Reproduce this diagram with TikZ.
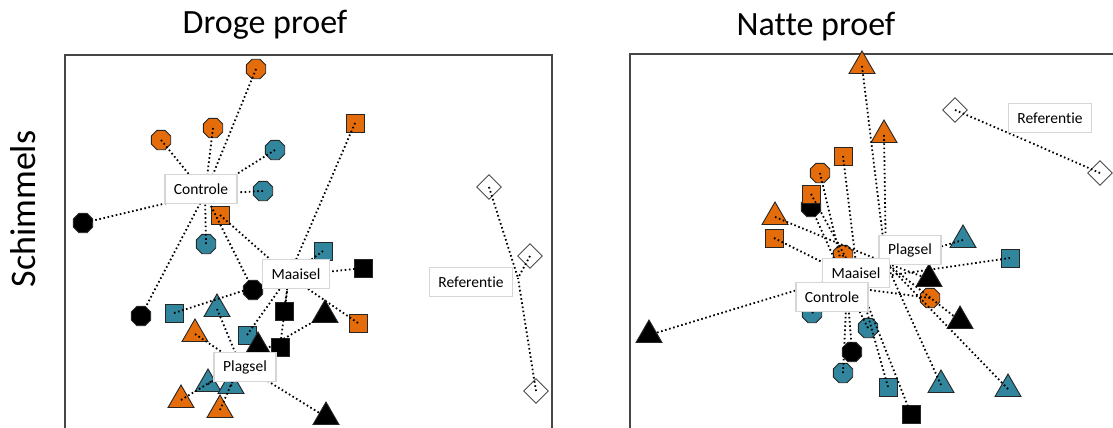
\documentclass[tikz,border=0pt]{standalone}
\usepackage{fontspec}
\setmainfont{Carlito}[Ligatures=NoCommon]
\usetikzlibrary{shapes.geometric}
\definecolor{oranje}{RGB}{228,108,10}
\definecolor{blauw}{RGB}{49,133,156}
\definecolor{kader}{RGB}{70,70,70}
\definecolor{lichtgrijs}{RGB}{214,214,214}

\begin{document}
\begin{tikzpicture}[x=1pt,y=-1pt,
	oct/.style={regular polygon, regular polygon sides=8, draw=black!85, line width=0.9pt, minimum size=21pt, inner sep=0pt},
	vierkant/.style={rectangle, draw=black!85, line width=0.9pt, minimum size=18pt, inner sep=0pt},
	driehoek/.style={regular polygon, regular polygon sides=3, draw=black!85, line width=0.9pt, minimum size=30pt, inner sep=0pt},
	ruit/.style={diamond, draw=black!70, fill=white, line width=0.9pt, minimum width=25pt, minimum height=25pt, inner sep=0pt},
	spaak/.style={line width=1.8pt, dash pattern=on 1.6pt off 2.6pt},
	groep/.style={rectangle, draw=lichtgrijs, line width=1.6pt, fill=white, minimum height=29pt, inner xsep=9pt, font=\fontsize{15.5}{18}\selectfont},
	titel/.style={font=\fontsize{34}{40}\selectfont}]
		\useasboundingbox (0,0) rectangle (1113,428);
		\clip (0,0) rectangle (1113,428);
		\node[titel] (t1) at (265,25) {Droge proef};
		\node[titel] (t2) at (816,27) {Natte proef};
		\node[titel, rotate=90, font=\fontsize{36}{40}\selectfont] (t3) at (23,209) {Schimmels};
		\draw[kader, line width=1.5pt] (65,55) rectangle (552,440);
		\draw[kader, line width=1.5pt] (630,54) rectangle (1130,440);
		% droge proef
		\coordinate (dc) at (205,194);
		\coordinate (dm) at (289,276);
		\coordinate (dp) at (240,364);
		\coordinate (dr) at (518,278);
		\foreach \n/\x/\y/\k in {1/256/69/oranje,2/213/128/oranje,3/161/140/oranje,4/275/150/blauw,5/263/191/blauw,6/83/223/black,7/206/244/blauw,8/141/316/black,9/253/290/black}
			\node[oct, fill=\k] (dC\n) at (\x,\y) {};
		\foreach \n/\x/\y/\k in {1/220/215/oranje,2/355/123/oranje,3/323/251/blauw,4/363/268/black,5/174/313/blauw,6/247/335/blauw,7/284/311/black,8/280/347/black,9/358/323/oranje}
			\node[vierkant, fill=\k] (dM\n) at (\x,\y) {};
		\foreach \n/\x/\y/\k in {1/217/309/blauw,2/195/334/oranje,3/258/347/black,4/325/315/black,5/326/417/black,6/208/384/blauw,7/231/386/blauw,8/181/400/oranje,9/220/410/oranje}
			\node[driehoek, fill=\k] (dP\n) at (\x,\y) {};
		\foreach \n/\x/\y in {1/489/187,2/530/256,3/536/391}
			\node[ruit] (dR\n) at (\x,\y) {};
		\foreach \n in {1,...,9} {
			\draw[spaak] (dC\n.center) -- (dc);
			\draw[spaak] (dM\n.center) -- (dm);
			\draw[spaak] (dP\n.center) -- (dp);
		}
		\foreach \n in {1,2,3} \draw[spaak] (dR\n.center) -- (dr);
		\node[groep] (dcl) at (201,189) {Controle};
		\node[groep] (dml) at (296,274) {Maaisel};
		\node[groep] (dpl) at (245,367) {Plagsel};
		\node[groep] (drl) at (471,282) {Referentie};
		% natte proef
		\coordinate (nc) at (847,287);
		\coordinate (nm) at (858,280);
		\coordinate (np) at (886,263);
		\coordinate (nr) at (1027,141);
		\foreach \n/\x/\y/\k in {1/820/173/oranje,2/811/207/black,3/843/255/oranje,4/930/298/oranje,5/812/313/blauw,6/868/328/blauw,7/852/352/black,8/843/373/blauw}
			\node[oct, fill=\k] (nC\n) at (\x,\y) {};
		\foreach \n/\x/\y/\k in {1/843/156/oranje,2/811/194/oranje,3/774/238/oranje,4/1010/258/blauw,5/888/387/blauw,6/911/414/black}
			\node[vierkant, fill=\k] (nM\n) at (\x,\y) {};
		\foreach \n/\x/\y/\k in {1/862/66/oranje,2/884/135/oranje,3/775/217/oranje,4/963/240/blauw,5/929/279/black,6/960/321/black,7/941/385/blauw,8/1008/389/blauw,9/649/335/black}
			\node[driehoek, fill=\k] (nP\n) at (\x,\y) {};
		\foreach \n/\x/\y in {1/955/110,2/1100/173}
			\node[ruit] (nR\n) at (\x,\y) {};
		\foreach \n in {1,...,8} \draw[spaak] (nC\n.center) -- (nc);
		\foreach \n in {1,...,6} \draw[spaak] (nM\n.center) -- (nm);
		\foreach \n in {1,...,9} \draw[spaak] (nP\n.center) -- (np);
		\foreach \n in {1,2} \draw[spaak] (nR\n.center) -- (nr);
		\node[groep] (nrl) at (1050,118) {Referentie};
		\node[groep] (npl) at (910,250) {Plagsel};
		\node[groep] (nml) at (856,273) {Maaisel};
		\node[groep] (ncl) at (832,297) {Controle};
	\end{tikzpicture}
\end{document}
